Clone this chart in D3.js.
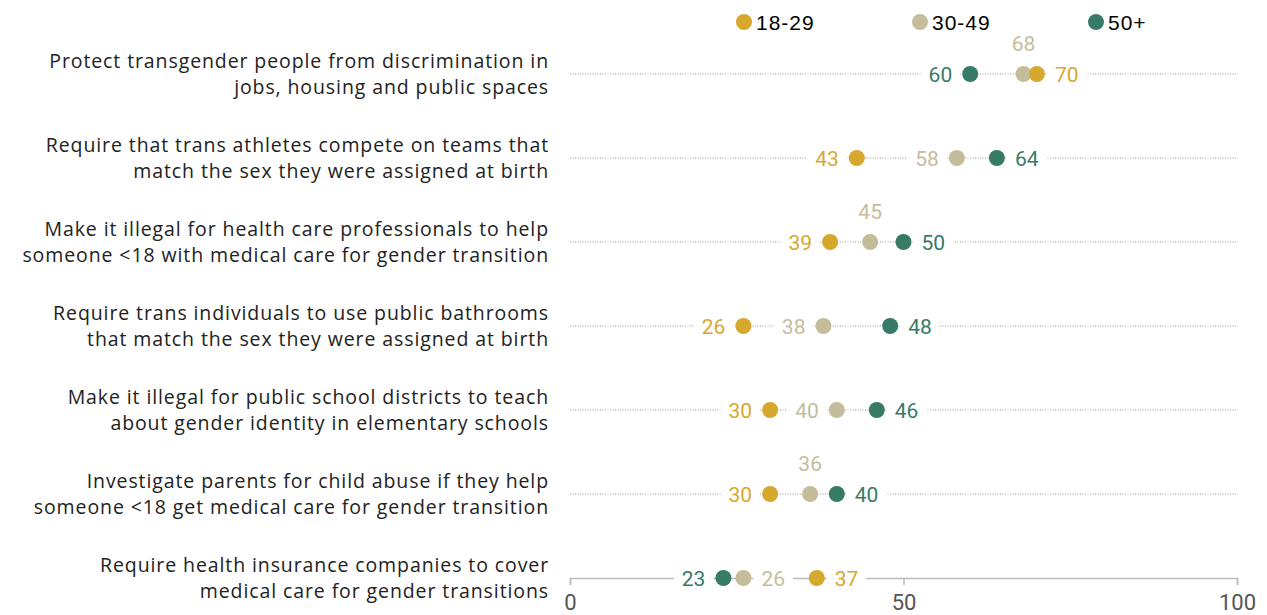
<!DOCTYPE html>
<html>
<head>
<meta charset="utf-8">
<script src="https://cdn.jsdelivr.net/npm/d3@7"></script>
<style>
  body { margin: 0; background: #fff; }
  text { font-family: "Open Sans", Roboto, sans-serif; }
</style>
</head>
<body>
<div id="chart"></div>
<script>
// questions, one row each
var questions = [
  ["Protect transgender people from discrimination in", "jobs, housing and public spaces"],
  ["Require that trans athletes compete on teams that", "match the sex they were assigned at birth"],
  ["Make it illegal for health care professionals to help", "someone <18 with medical care for gender transition"],
  ["Require trans individuals to use public bathrooms", "that match the sex they were assigned at birth"],
  ["Make it illegal for public school districts to teach", "about gender identity in elementary schools"],
  ["Investigate parents for child abuse if they help", "someone <18 get medical care for gender transition"],
  ["Require health insurance companies to cover", "medical care for gender transitions"]
];

var ages = ["18-29", "30-49", "50+"];
var age18 = [70, 43, 39, 26, 30, 30, 37];
var age30 = [68, 58, 45, 38, 40, 36, 26];
var age50 = [60, 64, 50, 48, 46, 40, 23];
var ticks = [0, 50, 100];

var colors = { "18-29": "#d6a82e", "30-49": "#c4bd9c", "50+": "#377a66" };
var numFont = "Roboto, sans-serif";

var width = 1267, height = 615;
var svg = d3.select("#chart").append("svg")
  .attr("width", width)
  .attr("height", height);

var x = d3.scaleLinear().domain([0, 100]).range([570, 1237]);
var y = d3.scalePoint().domain(d3.range(questions.length)).range([74, 578]);

// legend
var legend = svg.append("g").selectAll("g")
  .data(ages)
  .enter().append("g")
  .attr("transform", function (d, i) { return "translate(" + (744 + i * 176) + ",22)"; });
legend.append("circle").attr("r", 8).attr("fill", function (d) { return colors[d]; });
legend.append("text")
  .attr("x", 12).attr("dy", "0.36em")
  .style("font-size", "21px").style("font-family", "\"Liberation Sans\", Arial, sans-serif")
  .style("letter-spacing", "1px")
  .attr("fill", "#000")
  .text(function (d) { return d; });

// row labels
svg.append("g").selectAll("text")
  .data(questions)
  .enter().append("text")
  .attr("x", 549)
  .attr("y", function (d, i) { return y(i) - 13; })
  .attr("text-anchor", "end")
  .style("font-size", "19.5px")
  .style("letter-spacing", "0.9px")
  .attr("fill", "#222")
  .each(function (d) {
    var t = d3.select(this);
    d.forEach(function (line, j) {
      t.append("tspan").attr("x", 549).attr("dy", j === 0 ? "0.35em" : "26px").text(line);
    });
  });

// dotted lines (last row is the axis)
svg.append("g").selectAll("line")
  .data(questions.slice(0, -1))
  .enter().append("line")
  .attr("x1", x(0)).attr("x2", x(100))
  .attr("y1", function (d, i) { return y(i); })
  .attr("y2", function (d, i) { return y(i); })
  .attr("stroke", "#999")
  .attr("stroke-width", 1)
  .attr("stroke-dasharray", "1,1.5");

var axis = d3.axisBottom(x).tickValues(ticks).tickSize(7).tickPadding(9);
var ax = svg.append("g").attr("transform", "translate(0," + y(6) + ")").call(axis);
ax.select(".domain").attr("stroke", "#bbb").attr("stroke-width", 1.5);
ax.selectAll(".tick line").attr("stroke", "#bbb").attr("stroke-width", 1.5);
ax.selectAll(".tick text").style("font-size", "22px").attr("fill", "#555")
  .style("font-family", numFont);

// points and their labels
var rows = questions.map(function (q, i) {
  var pts = [
    { age: "18-29", v: age18[i] },
    { age: "30-49", v: age30[i] },
    { age: "50+", v: age50[i] }
  ].sort(function (a, b) { return a.v - b.v; });
  pts[0].pos = "left";
  pts[2].pos = "right";
  if (pts[1].v - pts[0].v >= 10) pts[1].pos = "left";
  else if (pts[2].v - pts[1].v >= 10) pts[1].pos = "right";
  else pts[1].pos = "above";
  pts.forEach(function (p) { p.row = i; });
  return pts;
});
var points = d3.merge(rows);

var labels = svg.append("g").selectAll("g")
  .data(points)
  .enter().append("g")
  .attr("transform", function (d) {
    var px = x(d.v), py = y(d.row);
    if (d.pos === "left") return "translate(" + (px - 18) + "," + py + ")";
    if (d.pos === "right") return "translate(" + (px + 18) + "," + py + ")";
    return "translate(" + px + "," + (py - 31) + ")";
  });

labels.append("text")
  .attr("text-anchor", function (d) {
    return d.pos === "left" ? "end" : d.pos === "right" ? "start" : "middle";
  })
  .attr("dy", "0.36em")
  .style("font-size", "21px")
  .style("font-family", numFont)
  .attr("fill", function (d) { return colors[d.age]; })
  .text(function (d) { return d.v; });

// white box behind labels to break the dotted line
labels.each(function () {
  var g = d3.select(this);
  var b = g.select("text").node().getBBox();
  g.insert("rect", "text")
    .attr("x", b.x - 8).attr("y", b.y)
    .attr("width", b.width + 16).attr("height", b.height)
    .attr("fill", "#fff");
});

svg.append("g").selectAll("circle")
  .data(points)
  .enter().append("circle")
  .attr("cx", function (d) { return x(d.v); })
  .attr("cy", function (d) { return y(d.row); })
  .attr("r", 8)
  .attr("fill", function (d) { return colors[d.age]; });
</script>
</body>
</html>
